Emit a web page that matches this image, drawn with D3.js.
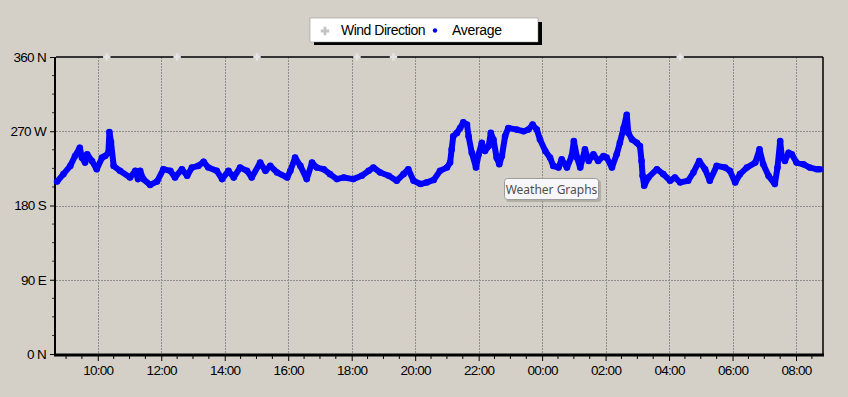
<!DOCTYPE html>
<html>
<head>
<meta charset="utf-8">
<script src="https://cdn.jsdelivr.net/npm/d3@7"></script>
<style>
  body { margin: 0; background: #d4d0c8; }
  svg { display: block; }
  text { font-family: "Liberation Sans", Arial, sans-serif; }
</style>
</head>
<body>
<svg id="chart"></svg>
<script>
// время и среднее направление ветра (градусы)
let avgTimes = ["08:43","08:55","09:08","09:17","09:26","09:30","09:36","09:40","09:49","09:58",
  "10:08","10:14","10:20","10:22","10:25","10:30","10:42","11:01","11:11","11:16",
  "11:20","11:26","11:39","11:52","12:04","12:17","12:26","12:39","12:49","12:58",
  "13:10","13:20","13:29","13:45","13:55","14:07","14:17","14:29","14:42","14:51",
  "15:07","15:17","15:26","15:39","15:58","16:04","16:13","16:23","16:35","16:45",
  "16:54","17:07","17:19","17:32","17:45","18:03","18:19","18:32","18:41","18:54",
  "19:10","19:25","19:38","19:47","19:57","20:10","20:22","20:35","20:47","21:00",
  "21:06","21:09","21:12","21:19","21:25","21:31","21:38","21:41","21:47","21:55",
  "22:00","22:06","22:12","22:19","22:23","22:28","22:34","22:39","22:44","22:50",
  "22:56","23:12","23:25","23:34","23:42","23:50","23:56","00:06","00:15","00:21",
  "00:31","00:37","00:47","00:56","01:00","01:06","01:12","01:21","01:28","01:37",
  "01:46","01:56","02:02","02:12","02:21","02:27","02:34","02:40","02:43","02:50",
  "02:59","03:05","03:08","03:10","03:13","03:21","03:37","03:49","04:02","04:11",
  "04:21","04:36","04:46","04:57","05:08","05:17","05:30","05:46","05:55","06:05",
  "06:14","06:27","06:43","06:51","06:58","07:08","07:20","07:25","07:30","07:33",
  "07:39","07:46","07:52","08:01","08:14","08:26","08:39","08:45"];
let avgValues = [209,218,228,240,250,238,232,242,234,224,
  238,240,244,269,257,228,222,214,222,212,
  222,212,205,209,224,222,214,224,216,226,
  228,233,226,222,212,222,214,226,222,214,
  232,222,228,220,214,222,238,228,212,232,
  226,224,218,212,214,212,216,222,226,220,
  216,210,218,224,210,206,208,211,222,226,
  232,248,264,268,274,281,278,264,244,226,
  242,256,246,252,268,260,238,230,240,264,
  274,272,270,272,278,272,260,246,238,228,
  226,236,226,240,258,238,226,248,234,242,
  234,240,238,226,242,256,274,290,268,260,
  256,252,234,216,204,214,224,218,210,214,
  208,210,220,234,224,210,228,226,222,208,
  218,226,232,248,230,216,206,226,258,240,
  234,244,242,232,230,226,224,224];

// отдельные отметки направления ветра (видны только у верхней границы)
let windTimes = ["10:17","12:30","15:01","18:10","19:19","04:21"];
let windValues = [360,360,360,360,360,360];

let yTicks = [0, 90, 180, 270, 360];
let yLabels = ["0 N", "90 E", "180 S", "270 W", "360 N"];
let legendNames = ["Wind Direction", "Average"];
let startTime = "08:41"; // первый день
let endTime = "08:51";   // следующий день

let width = 848, height = 397;
let mLeft = 56, mRight = 823, mTop = 57, mBottom = 354;

// перевод списка "ЧЧ:ММ" в даты: при уменьшении времени начинается следующий день
function toDates(arr) {
    let day = 1, prev = -1;
    return arr.map(t => {
        let p = t.split(":");
        let m = +p[0] * 60 + +p[1];
        if (m < prev) day++;
        prev = m;
        return new Date(2024, 0, day, +p[0], +p[1]);
    });
}
let avgDates = toDates(avgTimes);
let windDates = toDates(windTimes);
let [t0, t1] = toDates([startTime, "20:00", endTime]).filter((d, i) => i != 1);

let svg = d3.select("#chart").attr("width", width).attr("height", height);

let scaleX = d3.scaleTime().domain([t0, t1]).range([mLeft, mRight]);
let scaleY = d3.scaleLinear().domain([0, 360]).range([mBottom, mTop]);

// сетка
let majorHours = scaleX.ticks(d3.timeHour.every(2));
svg.append("g").selectAll("line")
    .data(majorHours).enter().append("line")
    .attr("x1", d => Math.round(scaleX(d)) + 0.5).attr("x2", d => Math.round(scaleX(d)) + 0.5)
    .attr("y1", mTop).attr("y2", mBottom)
    .attr("stroke", "#8e8e8e").attr("stroke-dasharray", "2,1");
svg.append("g").selectAll("line")
    .data(yTicks.filter(d => d > 0 && d < 360)).enter().append("line")
    .attr("x1", mLeft).attr("x2", mRight)
    .attr("y1", d => Math.round(scaleY(d)) + 0.5).attr("y2", d => Math.round(scaleY(d)) + 0.5)
    .attr("stroke", "#8e8e8e").attr("stroke-dasharray", "2,1");

// рамка
svg.append("line").attr("x1", mLeft).attr("x2", mRight).attr("y1", mTop).attr("y2", mTop)
    .attr("stroke", "#000").attr("stroke-width", 1.5);
svg.append("line").attr("x1", mRight).attr("x2", mRight).attr("y1", mTop).attr("y2", mBottom)
    .attr("stroke", "#000").attr("stroke-width", 1.5);

// ось OY
let axisY = d3.axisLeft(scaleY).tickValues(yTicks)
    .tickFormat((d, i) => yLabels[i]).tickSize(5).tickPadding(4);
let gy = svg.append("g").attr("transform", `translate(${mLeft - 1}, 0)`).call(axisY);
gy.select(".domain").remove();
gy.selectAll("text").style("font-size", "13.5px").style("letter-spacing", "-0.7px").attr("fill", "#000");
svg.append("g").selectAll("line")
    .data(d3.range(0, 360, 22.5).filter(d => d % 90 != 0)).enter().append("line")
    .attr("x1", mLeft - 4).attr("x2", mLeft)
    .attr("y1", d => scaleY(d)).attr("y2", d => scaleY(d))
    .attr("stroke", "#333");

// ось OX
let axisX = d3.axisBottom(scaleX).ticks(d3.timeHour.every(2))
    .tickFormat(d3.timeFormat("%H:%M")).tickSize(6).tickPadding(4);
let gx = svg.append("g").attr("transform", `translate(0, ${mBottom + 1})`).call(axisX);
gx.select(".domain").remove();
gx.selectAll("text").style("font-size", "13.5px").style("letter-spacing", "-0.7px").attr("fill", "#000");
svg.append("g").selectAll("line")
    .data(scaleX.ticks(d3.timeMinute.every(30)).filter(d => d.getMinutes() == 30 || d.getHours() % 2 == 1))
    .enter().append("line")
    .attr("x1", d => scaleX(d)).attr("x2", d => scaleX(d))
    .attr("y1", mBottom).attr("y2", mBottom + 5)
    .attr("stroke", "#000");

svg.append("line").attr("x1", mLeft - 1).attr("x2", mLeft - 1).attr("y1", mTop).attr("y2", mBottom + 2)
    .attr("stroke", "#000").attr("stroke-width", 2);
svg.append("line").attr("x1", mLeft - 2).attr("x2", mRight + 1).attr("y1", mBottom + 1).attr("y2", mBottom + 1)
    .attr("stroke", "#000").attr("stroke-width", 3);

// серия Average
let avgData = avgDates.map((d, i) => ({date: d, value: avgValues[i]}));
let line = d3.line().x(d => scaleX(d.date)).y(d => scaleY(d.value));
svg.append("path").datum(avgData)
    .attr("d", line).attr("fill", "none")
    .attr("stroke", "#0000ff").attr("stroke-width", 6).attr("stroke-linejoin", "round");
svg.append("g").selectAll("circle")
    .data(avgData).enter().append("circle")
    .attr("cx", d => scaleX(d.date)).attr("cy", d => scaleY(d.value))
    .attr("r", 3.3).attr("fill", "#0000ff");

// серия Wind Direction
let sym = d3.symbol().type(d3.symbolCross).size(30);
svg.append("g").selectAll("path")
    .data(windDates.map((d, i) => ({date: d, value: windValues[i]}))).enter().append("path")
    .attr("d", sym)
    .attr("transform", d => `translate(${scaleX(d.date)}, ${scaleY(d.value)})`)
    .attr("fill", "#e4e4e4");

// легенда
let lg = svg.append("g");
lg.append("rect").attr("x", 314).attr("y", 22).attr("width", 228).attr("height", 23).attr("fill", "#000");
lg.append("rect").attr("x", 310).attr("y", 18).attr("width", 228).attr("height", 24)
    .attr("fill", "#fff").attr("stroke", "#888").attr("stroke-width", 0.5);
lg.append("path").attr("d", d3.symbol().type(d3.symbolCross).size(40))
    .attr("transform", "translate(325, 31)").attr("fill", "#c4c4c4");
lg.append("text").attr("x", 341).attr("y", 35).text(legendNames[0])
    .style("font-size", "14px").style("letter-spacing", "-0.5px");
lg.append("circle").attr("cx", 435).attr("cy", 30.5).attr("r", 2.2).attr("fill", "#0000ff");
lg.append("text").attr("x", 452).attr("y", 35).text(legendNames[1])
    .style("font-size", "14px").style("letter-spacing", "-0.3px");

// всплывающая подсказка
let tip = svg.append("g");
tip.append("rect").attr("x", 506).attr("y", 180).attr("width", 95).attr("height", 22)
    .attr("rx", 3).attr("fill", "#9a9890").attr("opacity", 0.6);
tip.append("rect").attr("x", 504.5).attr("y", 178.5).attr("width", 94).attr("height", 21)
    .attr("rx", 3).attr("fill", "#f7f7f9").attr("stroke", "#9c9c9c");
tip.append("text").attr("x", 551.5).attr("y", 194).attr("text-anchor", "middle")
    .text("Weather Graphs").attr("fill", "#4f4f4f")
    .style("font-family", "'Noto Sans', 'DejaVu Sans', sans-serif").style("font-size", "12px");
</script>
</body>
</html>
